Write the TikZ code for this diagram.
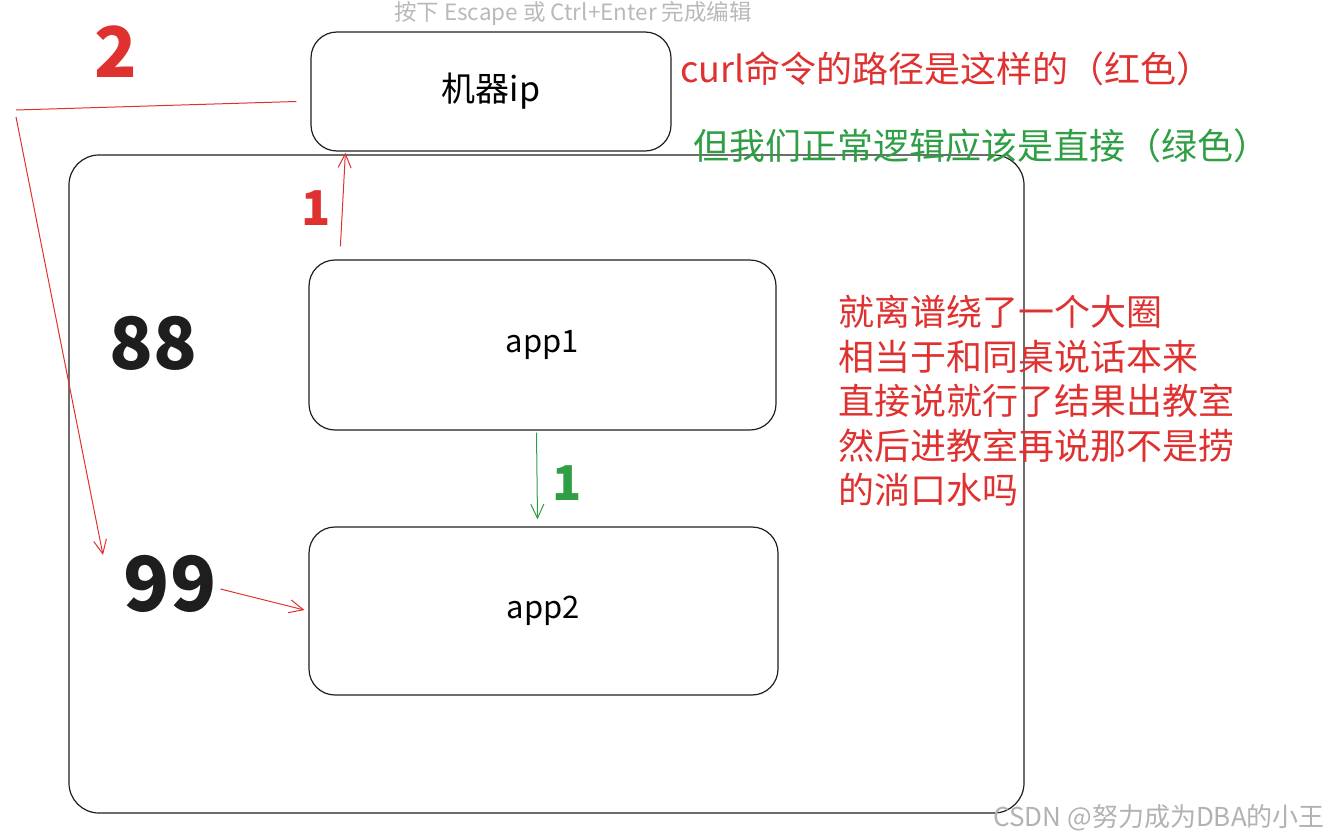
\documentclass[tikz,border=0pt]{standalone}
\usepackage{fontspec}
\setmainfont{Noto Sans CJK SC}
\usepackage{tikz}
\usetikzlibrary{arrows.meta,calc}

\definecolor{inkred}{HTML}{E03131}
\definecolor{inkgreen}{HTML}{2F9E44}
\definecolor{inkblack}{HTML}{1E1E1E}

\tikzset{
  box/.style={draw=inkblack, line width=1.2pt, rounded corners=26pt, inner sep=0pt},
  redline/.style={draw=inkred, line width=1pt},
  greenline/.style={draw=inkgreen, line width=1pt},
  tip/.style={-{Straight Barb[length=14pt,width=13pt]}},
  hand/.style={font=\fontsize{#1}{#1}\selectfont\bfseries, inner sep=0pt}
}

\begin{document}
\begin{tikzpicture}[x=1pt,y=-1pt]
\useasboundingbox (0,0) rectangle (1330,838);

% Boxes
\node[box, rounded corners=30pt, minimum width=955pt, minimum height=658pt] (outer) at (546.5,484) {};
\node[box, minimum width=360pt, minimum height=119pt, font=\fontsize{34}{34}\selectfont] (ip) at (491,91.5) {机器ip};
\node[box, minimum width=467pt, minimum height=170pt, font=\fontsize{31}{31}\selectfont] (app1) at (542.5,345) {app1};
\node[box, minimum width=469pt, minimum height=168pt, font=\fontsize{31}{31}\selectfont] (app2) at (543.5,611) {app2};

% Handwritten numbers
\node[hand=70, text=inkred] (two) at (116,52) {2};
\node[hand=48, text=inkred] (oneR) at (316,208) {1};
\node[hand=48, text=inkgreen] (oneG) at (567,483) {1};
\node[hand=72, text=inkblack] (eightyeight) at (153,343) {88};
\node[hand=76, text=inkblack] (ninetynine) at (170,584) {99};

% Red path
\coordinate (ipleft) at ($(ip.west)+(-14,10)$);
\coordinate (bendA) at (16,110);
\coordinate (bendB) at (16,117);
\coordinate (near99) at (103,555);
\draw[redline] (ipleft) -- (bendA);
\draw[redline, tip] (bendB) -- (near99);
\draw[redline, tip] ($(app1.north west)+(32,-13)$) -- ($(ip.south west)+(35,1)$);
\draw[redline, tip, shorten >=4pt] ($(ninetynine.east)+(4,5)$) -- (app2.west);

% Green path
\draw[greenline, tip] ($(app1.south)+(-6,2)$) -- ($(app2.north)+(-6,-7)$);

% Notes
\node[anchor=west, inner sep=0pt, text=inkred, font=\fontsize{36}{36}\selectfont] (noteR) at (680,69) {curl命令的路径是这样的（红色）};
\node[anchor=west, inner sep=0pt, text=inkgreen, font=\fontsize{36}{36}\selectfont] (noteG) at (693,146) {但我们正常逻辑应该是直接（绿色）};
\node[anchor=north west, inner sep=0pt, align=left, text=inkred, font=\fontsize{36}{44.5}\selectfont] (story) at (838,295)
  {就离谱绕了一个大圈\\相当于和同桌说话本来\\直接说就行了结果出教室\\然后进教室再说那不是捞\\的淌口水吗};

% Overlay texts
\node[anchor=base, inner sep=0pt, text=gray!55, font=\fontsize{22.5}{22.5}\selectfont] (hint) at (573,20) {按下 Escape 或 Ctrl+Enter 完成编辑};
\node[anchor=base east, inner sep=0pt, text=gray!60, font=\fontsize{26}{26}\selectfont] (mark) at (1325,826) {CSDN @努力成为DBA的小王};
\end{tikzpicture}
\end{document}
